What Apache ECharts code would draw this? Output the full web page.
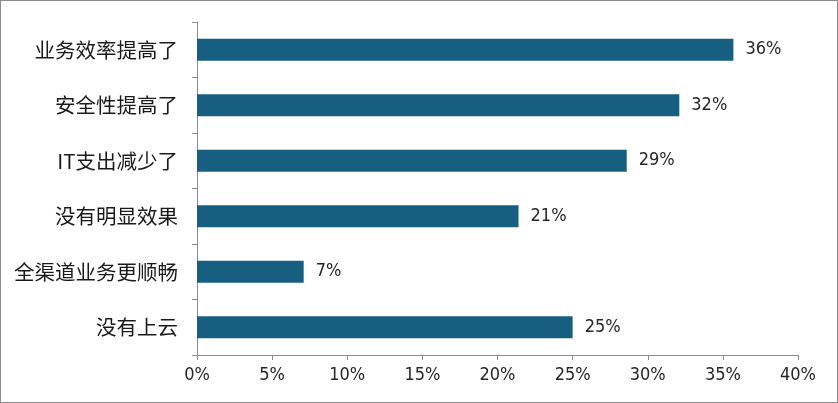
<!DOCTYPE html>
<html>
<head>
<meta charset="utf-8">
<script src="https://cdn.jsdelivr.net/npm/echarts@6/dist/echarts.min.js"></script>
<style>
  html, body { margin: 0; padding: 0; background: #fff; }
  #chart { width: 838px; height: 403px; box-sizing: border-box; border: 1px solid #8c8c8c; }
</style>
</head>
<body>
<div id="chart"></div>
<script>
const categories = ['业务效率提高了', '安全性提高了', 'IT支出减少了', '没有明显效果', '全渠道业务更顺畅', '没有上云'];
const values = [35.7, 32.1, 28.6, 21.4, 7.1, 25.0];
const xTicks = { min: 0, max: 40, interval: 5 };

const numFont = '"Liberation Sans Narrow", "Arial Narrow", "DejaVu Sans Condensed", sans-serif';
const cjkFont = '"Noto Sans CJK SC", "Microsoft YaHei", sans-serif';

const chart = echarts.init(document.getElementById('chart'), null, { renderer: 'canvas' });
chart.setOption({
  animation: false,
  backgroundColor: '#ffffff',
  grid: { left: 196, right: 39, top: 21, bottom: 47, containLabel: false },
  xAxis: {
    type: 'value',
    min: xTicks.min, max: xTicks.max, interval: xTicks.interval,
    axisLine: { show: true, lineStyle: { color: '#8c8c8c', width: 1 } },
    axisTick: { show: true, length: 5, lineStyle: { color: '#8c8c8c' } },
    splitLine: { show: false },
    axisLabel: {
      formatter: v => v + '%',
      color: '#262626', fontSize: 18, fontFamily: numFont, margin: 11
    }
  },
  yAxis: {
    type: 'category',
    data: categories,
    inverse: true,
    axisLine: { show: true, lineStyle: { color: '#8c8c8c', width: 1 } },
    axisTick: { show: true, length: 5, lineStyle: { color: '#8c8c8c' } },
    axisLabel: { color: '#1a1a1a', fontSize: 20.5, fontFamily: cjkFont, margin: 19 }
  },
  series: [{
    type: 'bar',
    data: values,
    barWidth: 22,
    itemStyle: { color: '#175F80' },
    label: {
      show: true, position: 'right', distance: 12,
      formatter: p => Math.round(p.value) + '%',
      color: '#262626', fontSize: 18, fontFamily: numFont
    }
  }]
});
</script>
</body>
</html>
